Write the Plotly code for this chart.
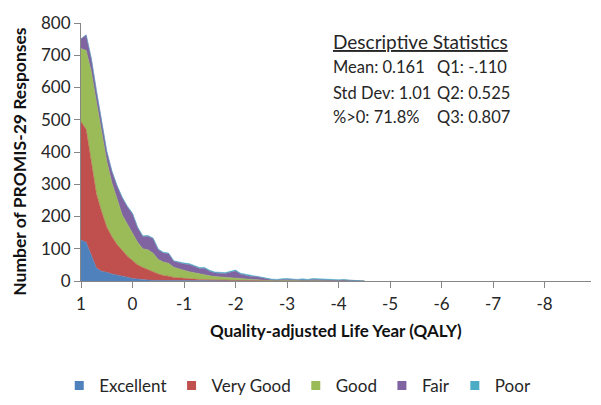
import plotly.graph_objects as go

# QALY bins (0.1 wide), from 1.0 down to -4.5
qaly = [round(1.0 - 0.1 * i, 1) for i in range(56)]

excellent = [127, 120, 80, 40, 30, 27, 22, 18, 15, 12, 8, 5, 4, 3, 2, 2, 1, 1, 1, 0,
             0, 0, 0, 0, 0, 0, 0, 0, 0, 0, 0, 0, 0, 0, 0, 0, 0, 0, 0, 0,
             0, 0, 0, 0, 0, 0, 0, 0, 0, 0, 0, 0, 0, 0, 0, 0]
very_good = [367, 350, 290, 230, 185, 140, 115, 95, 80, 65, 55, 45, 38, 32, 26, 20, 16, 14, 10, 9,
             8, 7, 6, 5, 5, 4, 4, 3, 3, 2, 2, 2, 1, 1, 1, 0, 0, 0, 0, 0,
             0, 0, 0, 0, 0, 0, 0, 0, 0, 0, 0, 0, 0, 0, 0, 0]
good = [227, 245, 280, 285, 245, 205, 168, 142, 110, 98, 85, 70, 58, 62, 58, 45, 42, 40, 32, 28,
        25, 22, 18, 16, 14, 12, 10, 9, 8, 8, 7, 6, 5, 4, 3, 3, 2, 1, 1, 1,
        0, 0, 0, 0, 0, 0, 0, 0, 0, 0, 0, 0, 0, 0, 0, 0]
fair = [30, 48, 40, 35, 32, 30, 35, 40, 53, 55, 60, 45, 38, 42, 45, 30, 28, 30, 18, 20,
        20, 22, 20, 18, 20, 14, 11, 12, 12, 18, 22, 13, 11, 9, 10, 8, 5, 3, 2, 4,
        5, 4, 3, 4, 3, 5, 4, 3, 2, 3, 2, 3, 2, 1, 1, 0]
poor = [0, 0, 0, 0, 1, 1, 1, 1, 2, 2, 2, 2, 2, 2, 2, 2, 2, 2, 2, 2,
        3, 3, 3, 3, 3, 3, 3, 3, 3, 3, 3, 3, 3, 3, 2, 2, 2, 2, 2, 2,
        3, 3, 2, 3, 2, 3, 2, 2, 2, 2, 2, 2, 1, 1, 1, 0]

series = [
    ("Excellent", excellent, "#4F81BD"),
    ("Very Good", very_good, "#C0504D"),
    ("Good", good, "#9BBB59"),
    ("Fair", fair, "#8064A2"),
    ("Poor", poor, "#4BACC6"),
]

x_ticks = [1, 0, -1, -2, -3, -4, -5, -6, -7, -8]
y_ticks = [0, 100, 200, 300, 400, 500, 600, 700, 800]

FONT = "Lato, 'Open Sans', sans-serif"
TXT = "#262626"

fig = go.Figure()
for name, vals, col in series:
    fig.add_trace(go.Scatter(
        x=qaly, y=vals, name=name, mode="lines",
        stackgroup="one", fillcolor=col,
        line=dict(color=col, width=0.5), showlegend=False,
    ))
# legend entries with square swatches
for name, vals, col in series:
    fig.add_trace(go.Scatter(
        x=[None], y=[None], name=name, mode="markers",
        marker=dict(symbol="square", size=9, color=col), showlegend=True,
    ))

axis_col = "#868686"
fig.update_layout(
    width=593, height=397,
    margin=dict(l=73, r=10, t=15, b=124),
    paper_bgcolor="white", plot_bgcolor="white",
    font=dict(family=FONT, size=17, color=TXT),
    showlegend=True,
    legend=dict(orientation="h", x=0.425, xanchor="center",
                yref="container", y=0.048, yanchor="middle",
                font=dict(size=17, color=TXT), traceorder="normal",
                itemwidth=30, tracegroupgap=0),
    xaxis=dict(range=[1, -8.9], tickmode="array", tickvals=x_ticks,
               ticktext=[str(v) for v in x_ticks], automargin=False,
               showgrid=False, zeroline=False, showline=True, linecolor=axis_col,
               ticks="outside", ticklen=6, tickcolor=axis_col,
               ticklabelstandoff=2,
               tickfont=dict(size=17, color=TXT)),
    yaxis=dict(range=[0, 800], tickmode="array", tickvals=y_ticks, automargin=False,
               showgrid=False, zeroline=False, showline=True, linecolor=axis_col,
               ticks="outside", ticklen=6, tickcolor=axis_col,
               tickfont=dict(size=17, color=TXT)),
)

# axis titles
fig.add_annotation(text="<b>Quality-adjusted Life Year (QALY)</b>", x=0.5, y=-0.19,
                   xref="paper", yref="paper", xanchor="center", yanchor="middle",
                   showarrow=False, font=dict(family=FONT, size=17, color="#111"))
fig.add_annotation(text="<b>Number of PROMIS-29 Responses</b>", x=-0.122, y=0.465,
                   xref="paper", yref="paper", xanchor="center", yanchor="middle",
                   textangle=-90, showarrow=False, font=dict(family=FONT, size=17.5, color="#111"))

def ann(text, x, y, size=16.5):
    fig.add_annotation(text=text, x=x, y=y, xref="paper", yref="paper",
                       xanchor="left", yanchor="middle", showarrow=False,
                       font=dict(family=FONT, size=size, color=TXT))

ann("<u>Descriptive Statistics</u>", 0.49, 0.93, 19)
ann("Mean: 0.161", 0.49, 0.829)
ann("Q1: -.110", 0.694, 0.829)
ann("Std Dev: 1.01", 0.49, 0.729)
ann("Q2: 0.525", 0.694, 0.729)
ann("%>0: 71.8%", 0.49, 0.636)
ann("Q3: 0.807", 0.694, 0.636)

fig.write_html("out.html")
